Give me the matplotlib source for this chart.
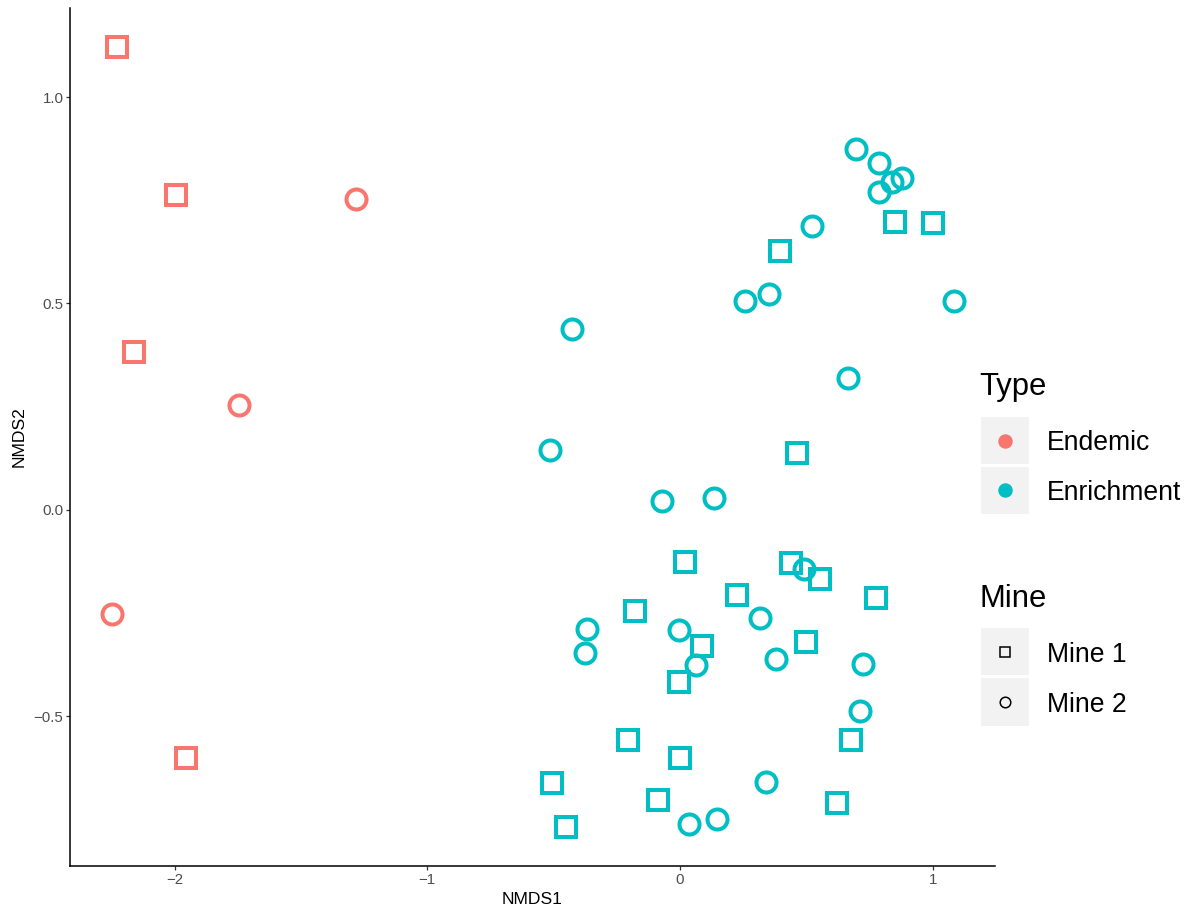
import matplotlib
matplotlib.use("Agg")
import matplotlib.pyplot as plt
from matplotlib.patches import Rectangle
from matplotlib.lines import Line2D
from matplotlib.ticker import FixedLocator, FuncFormatter

plt.rcParams['font.family'] = ['Liberation Sans', 'DejaVu Sans']

# NMDS ordination scores, split by sample type and mine
endemic_m1_x = [-2.227, -1.996, -2.159, -1.955]
endemic_m1_y = [1.122, 0.762, 0.383, -0.601]
endemic_m2_x = [-1.282, -1.745, -2.247]
endemic_m2_y = [0.753, 0.255, -0.253]

enrich_m1_x = [0.852, 1.000, 0.395, 0.464, 0.021, 0.438, 0.553, 0.776, 0.227, -0.177,
               0.497, 0.086, -0.005, -0.206, -0.001, 0.677, -0.508, -0.086, 0.621, -0.452]
enrich_m1_y = [0.698, 0.694, 0.628, 0.137, -0.126, -0.129, -0.168, -0.214, -0.207, -0.245,
               -0.320, -0.330, -0.417, -0.556, -0.600, -0.556, -0.661, -0.701, -0.710, -0.768]
enrich_m2_x = [0.695, 0.789, 0.877, 0.838, 0.789, 0.524, 0.351, 0.257, 1.083, -0.427,
               0.665, -0.514, -0.072, 0.135, 0.490, 0.315, -0.368, -0.005, -0.375, 0.063,
               0.380, 0.724, 0.711, 0.340, 0.036, 0.145]
enrich_m2_y = [0.874, 0.839, 0.803, 0.795, 0.771, 0.688, 0.523, 0.506, 0.507, 0.438,
               0.319, 0.145, 0.021, 0.029, -0.144, -0.261, -0.287, -0.291, -0.346, -0.376,
               -0.361, -0.374, -0.486, -0.658, -0.761, -0.749]

type_labels = ["Endemic", "Enrichment"]
mine_labels = ["Mine 1", "Mine 2"]
x_ticks = [-2, -1, 0, 1]
y_ticks = [-0.5, 0.0, 0.5, 1.0]

RED = "#F8766D"
TEAL = "#00BFC4"

W, H = 1188, 907
fig = plt.figure(figsize=(W / 100, H / 100), dpi=100)

def fx(px):
    return px / W

def fy(py):
    return 1 - py / H

ax = fig.add_axes([fx(70), fy(866), fx(995) - fx(70), fy(8) - fy(866)])

mk = dict(linestyle="none", markerfacecolor="none", markersize=14.4, markeredgewidth=2.9)
ax.plot(endemic_m1_x, endemic_m1_y, marker="s", markeredgecolor=RED, **mk)
ax.plot(endemic_m2_x, endemic_m2_y, marker="o", markeredgecolor=RED, **mk)
ax.plot(enrich_m1_x, enrich_m1_y, marker="s", markeredgecolor=TEAL, **mk)
ax.plot(enrich_m2_x, enrich_m2_y, marker="o", markeredgecolor=TEAL, **mk)

ax.set_xlim(-2.414, 1.2465)
ax.set_ylim(-0.862, 1.2155)

for side in ("top", "right"):
    ax.spines[side].set_visible(False)
for side in ("left", "bottom"):
    ax.spines[side].set_linewidth(1.1)
    ax.spines[side].set_color("black")

ax.xaxis.set_major_locator(FixedLocator(x_ticks))
ax.yaxis.set_major_locator(FixedLocator(y_ticks))
ax.xaxis.set_major_formatter(FuncFormatter(lambda v, p: f"{v:g}".replace("-", "\u2212")))
ax.yaxis.set_major_formatter(FuncFormatter(lambda v, p: f"{v:.1f}".replace("-", "\u2212")))
ax.tick_params(axis="both", length=2.9, width=0.9, color="#333333",
               labelcolor="#4D4D4D", labelsize=10.8)
ax.tick_params(axis="x", pad=2.5)
ax.tick_params(axis="y", pad=1.8)

fig.text(fx(532.5), fy(899), "NMDS1", ha="center", va="center", fontsize=12.6, color="black")
fig.text(fx(19), fy(437), "NMDS2", ha="center", va="center", rotation=90,
         fontsize=12.6, color="black")

# Legend: colour (Type) and shape (Mine)
key_left, key_w = 981, 48

def key_box(top, bottom):
    fig.patches.append(Rectangle((fx(key_left), fy(bottom)), fx(key_w), fy(top) - fy(bottom),
                                 transform=fig.transFigure, facecolor="#F2F2F2",
                                 edgecolor="none"))

fig.text(fx(979), fy(395), "Type", ha="left", va="baseline", fontsize=22.3)
type_keys = [(417, 464), (467, 514)]
for (top, bot), lab, col in zip(type_keys, type_labels, [RED, TEAL]):
    key_box(top, bot)
    cy = (top + bot) / 2
    fig.add_artist(Line2D([fx(key_left + key_w / 2)], [fy(cy)], transform=fig.transFigure,
                          marker="o", linestyle="none", markersize=9.4,
                          markerfacecolor=col, markeredgecolor=col))
    fig.text(fx(1047), fy(cy), lab, ha="left", va="center_baseline", fontsize=19.1)

fig.text(fx(979), fy(607), "Mine", ha="left", va="baseline", fontsize=22.3)
mine_keys = [(628, 675), (678, 726)]
for (top, bot), lab, m in zip(mine_keys, mine_labels, ["s", "o"]):
    key_box(top, bot)
    cy = (top + bot) / 2
    fig.add_artist(Line2D([fx(key_left + key_w / 2)], [fy(cy)], transform=fig.transFigure,
                          marker=m, linestyle="none", markersize=7.6,
                          markerfacecolor="none", markeredgecolor="black",
                          markeredgewidth=1.1))
    fig.text(fx(1047), fy(cy), lab, ha="left", va="center_baseline", fontsize=19.1)

fig.savefig("out.png", dpi=100, facecolor="white")
